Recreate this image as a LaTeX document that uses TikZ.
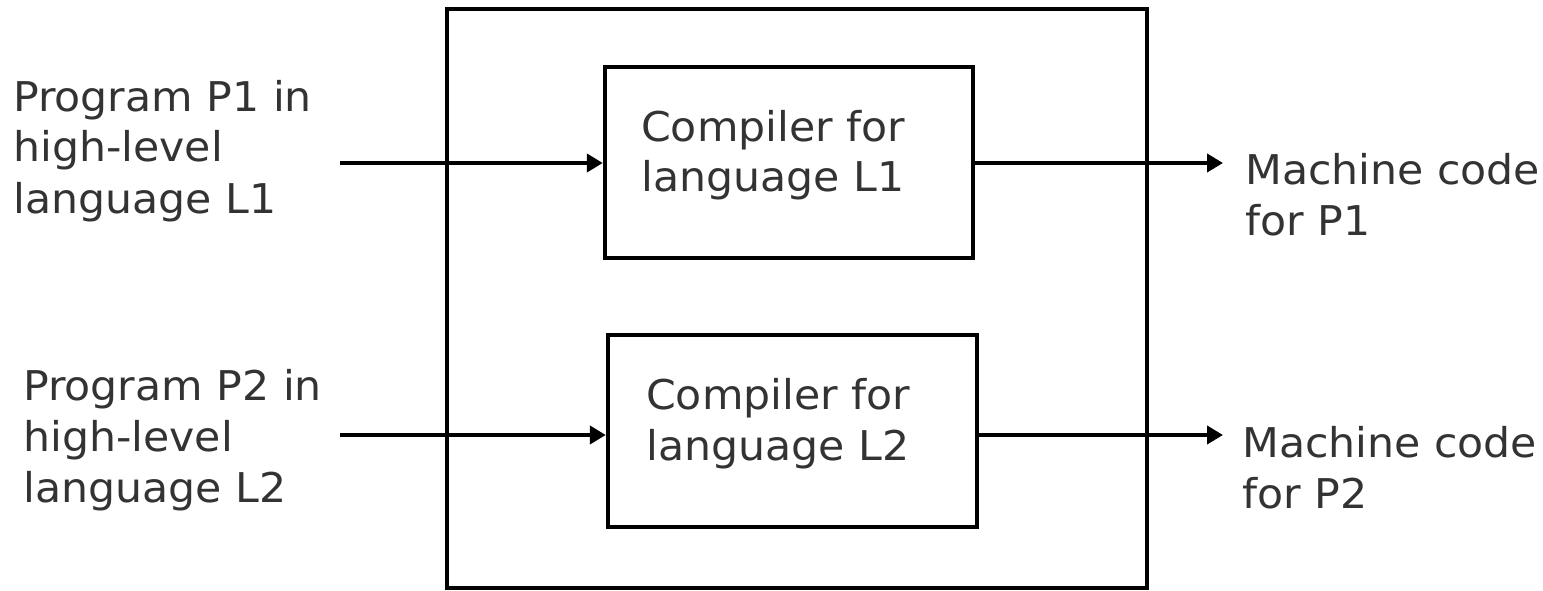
\documentclass[tikz,border=0pt]{standalone}
\usepackage{fontspec}
\setmainfont[FakeStretch=1.04]{DejaVu Sans}
\usetikzlibrary{arrows.meta}
\definecolor{txtgray}{HTML}{333333}
\begin{document}
\begin{tikzpicture}[x=1pt,y=-1pt,
  lbl/.style={font=\fontsize{41}{51}\selectfont, text=txtgray, align=left, inner sep=0pt, anchor=base west},
  box/.style={draw=black, line width=4.4pt, inner sep=0pt},
  conn/.style={draw=black, line width=4.2pt, -{Triangle[length=16pt,width=18pt]}}]
\useasboundingbox (0,0) rectangle (1543,591);
\node[box, minimum width=700pt, minimum height=579pt] (outer) at (797,298.5) {};
\node[box, minimum width=368pt, minimum height=191pt] (c1) at (789,162.5) {};
\node[box, minimum width=369pt, minimum height=192pt] (c2) at (792.5,431) {};
\node[lbl] (t1) at (641,192) {Compiler for\\language L1};
\node[lbl] (t2) at (646,460) {Compiler for\\language L2};
\node[lbl] (p1) at (13,213) {Program P1 in\\high-level\\language L1};
\node[lbl] (p2) at (23,502) {Program P2 in\\high-level\\language L2};
\node[lbl] (m1) at (1245,235) {Machine code\\for P1};
\node[lbl] (m2) at (1242,508) {Machine code\\for P2};
\coordinate (a1) at (340,163);
\coordinate (a2) at (340,435);
\coordinate (e1) at (1223,163);
\coordinate (e2) at (1223,435);
\draw[conn] (a1) -- (a1 -| c1.west);
\draw[conn] (a2) -- (a2 -| c2.west);
\draw[conn] (e1 -| c1.east) -- (e1);
\draw[conn] (e2 -| c2.east) -- (e2);
\end{tikzpicture}
\end{document}
